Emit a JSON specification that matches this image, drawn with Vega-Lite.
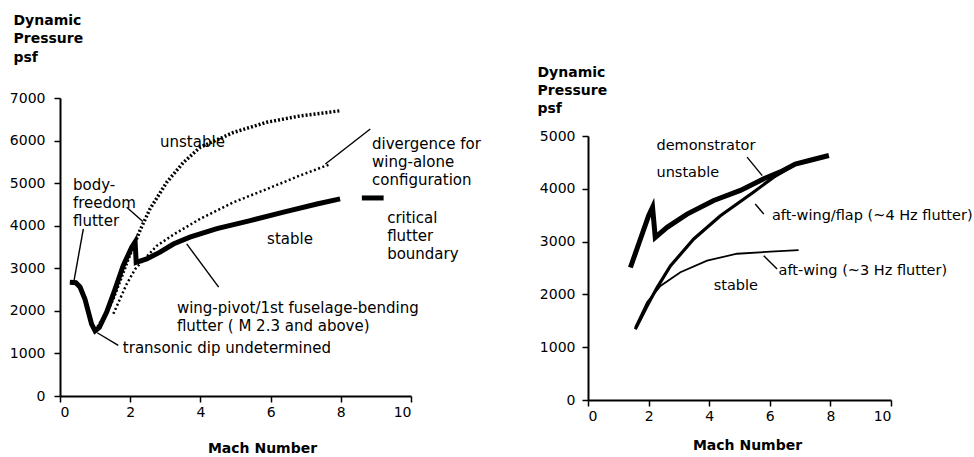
{
  "$schema": "https://vega.github.io/schema/vega-lite/v6.json",
  "background": "white",
  "padding": {"left": 9, "top": 13, "right": 0, "bottom": 0},
  "bounds": "flush",
  "spacing": 177,
  "config": {
    "view": {"stroke": null},
    "axis": {
      "grid": false,
      "domainColor": "black",
      "domainWidth": 2,
      "tickColor": "black",
      "tickWidth": 1.5,
      "tickSize": 6,
      "labelColor": "black",
      "labelFont": "DejaVu Sans",
      "labelFontSize": 14,
      "titleColor": "black",
      "titleFont": "DejaVu Sans",
      "titleFontSize": 14,
      "titleFontWeight": "bold"
    },
    "text": {"font": "DejaVu Sans", "color": "black"}
  },
  "datasets": {
    "leftLines": [
      {"series": "critical", "M": 0.28, "q": 2670},
      {"series": "critical", "M": 0.45, "q": 2660},
      {"series": "critical", "M": 0.57, "q": 2560},
      {"series": "critical", "M": 0.71, "q": 2280},
      {"series": "critical", "M": 0.81, "q": 1970},
      {"series": "critical", "M": 0.90, "q": 1690},
      {"series": "critical", "M": 1.00, "q": 1530},
      {"series": "critical", "M": 1.12, "q": 1610},
      {"series": "critical", "M": 1.33, "q": 1970},
      {"series": "critical", "M": 1.57, "q": 2510},
      {"series": "critical", "M": 1.80, "q": 3060},
      {"series": "critical", "M": 2.04, "q": 3490},
      {"series": "critical", "M": 2.14, "q": 3620},
      {"series": "critical", "M": 2.17, "q": 3140},
      {"series": "critical", "M": 2.47, "q": 3220},
      {"series": "critical", "M": 2.85, "q": 3380},
      {"series": "critical", "M": 3.23, "q": 3570},
      {"series": "critical", "M": 3.70, "q": 3730},
      {"series": "critical", "M": 4.47, "q": 3930},
      {"series": "critical", "M": 5.42, "q": 4120},
      {"series": "critical", "M": 6.37, "q": 4320},
      {"series": "critical", "M": 7.32, "q": 4510},
      {"series": "critical", "M": 7.98, "q": 4630},
      {"series": "unstable", "M": 1.02, "q": 1540},
      {"series": "unstable", "M": 1.25, "q": 1850},
      {"series": "unstable", "M": 1.50, "q": 2260},
      {"series": "unstable", "M": 1.75, "q": 2800},
      {"series": "unstable", "M": 1.98, "q": 3300},
      {"series": "unstable", "M": 2.16, "q": 3650},
      {"series": "unstable", "M": 2.30, "q": 3930},
      {"series": "unstable", "M": 2.56, "q": 4390},
      {"series": "unstable", "M": 3.04, "q": 5020},
      {"series": "unstable", "M": 3.52, "q": 5490},
      {"series": "unstable", "M": 3.99, "q": 5840},
      {"series": "unstable", "M": 4.94, "q": 6190},
      {"series": "unstable", "M": 5.89, "q": 6430},
      {"series": "unstable", "M": 6.84, "q": 6580},
      {"series": "unstable", "M": 7.98, "q": 6700},
      {"series": "divergence", "M": 1.52, "q": 1930},
      {"series": "divergence", "M": 1.71, "q": 2280},
      {"series": "divergence", "M": 1.90, "q": 2630},
      {"series": "divergence", "M": 2.14, "q": 2980},
      {"series": "divergence", "M": 2.33, "q": 3150},
      {"series": "divergence", "M": 2.76, "q": 3530},
      {"series": "divergence", "M": 3.23, "q": 3790},
      {"series": "divergence", "M": 3.99, "q": 4160},
      {"series": "divergence", "M": 4.94, "q": 4550},
      {"series": "divergence", "M": 5.89, "q": 4860},
      {"series": "divergence", "M": 6.84, "q": 5180},
      {"series": "divergence", "M": 7.65, "q": 5430}
    ],
    "leftLeaders": [
      {"M": 0.665, "q": 3925, "M2": 0.40, "q2": 2713},
      {"M": 1.90, "q": 4433, "M2": 2.36, "q2": 4097},
      {"M": 8.84, "q": 6271, "M2": 7.56, "q2": 5450},
      {"M": 4.52, "q": 2557, "M2": 3.61, "q2": 3573},
      {"M": 1.66, "q": 1188, "M2": 1.06, "q2": 1486}
    ],
    "leftKey": [
      {"M": 8.6, "q": 4652, "M2": 9.22}
    ],
    "leftLabels": [
      {"M": 2.85, "q": 5970, "label": "unstable"},
      {"M": 0.37, "q": 4960, "label": "body-\nfreedom\nflutter"},
      {"M": 8.89, "q": 5920, "label": "divergence for\nwing-alone\nconfiguration"},
      {"M": 9.32, "q": 4180, "label": "critical\nflutter\nboundary"},
      {"M": 5.9, "q": 3690, "label": "stable"},
      {"M": 3.33, "q": 2070, "label": "wing-pivot/1st fuselage-bending\nflutter ( M 2.3 and above)"},
      {"M": 1.79, "q": 1130, "label": "transonic dip undetermined"}
    ],
    "rightLines": [
      {"series": "demonstrator", "M": 1.40, "q": 2510},
      {"series": "demonstrator", "M": 1.73, "q": 3050},
      {"series": "demonstrator", "M": 2.00, "q": 3490},
      {"series": "demonstrator", "M": 2.13, "q": 3650},
      {"series": "demonstrator", "M": 2.22, "q": 3080},
      {"series": "demonstrator", "M": 2.61, "q": 3270},
      {"series": "demonstrator", "M": 3.27, "q": 3520},
      {"series": "demonstrator", "M": 4.15, "q": 3780},
      {"series": "demonstrator", "M": 5.03, "q": 3970},
      {"series": "demonstrator", "M": 5.80, "q": 4190},
      {"series": "demonstrator", "M": 6.35, "q": 4320},
      {"series": "demonstrator", "M": 6.84, "q": 4470},
      {"series": "demonstrator", "M": 7.40, "q": 4550},
      {"series": "demonstrator", "M": 7.95, "q": 4630},
      {"series": "flap", "M": 1.56, "q": 1340},
      {"series": "flap", "M": 1.95, "q": 1780},
      {"series": "flap", "M": 2.28, "q": 2130},
      {"series": "flap", "M": 2.72, "q": 2540},
      {"series": "flap", "M": 3.49, "q": 3050},
      {"series": "flap", "M": 4.37, "q": 3490},
      {"series": "flap", "M": 5.47, "q": 3940},
      {"series": "flap", "M": 6.13, "q": 4220},
      {"series": "flap", "M": 6.79, "q": 4450},
      {"series": "aft", "M": 1.56, "q": 1380},
      {"series": "aft", "M": 1.95, "q": 1850},
      {"series": "aft", "M": 2.39, "q": 2160},
      {"series": "aft", "M": 3.05, "q": 2420},
      {"series": "aft", "M": 3.93, "q": 2640},
      {"series": "aft", "M": 4.92, "q": 2770},
      {"series": "aft", "M": 6.02, "q": 2810},
      {"series": "aft", "M": 6.95, "q": 2840}
    ],
    "rightLeaders": [
      {"M": 5.25, "q": 4600, "M2": 5.75, "q2": 4250},
      {"M": 5.80, "q": 3523, "M2": 5.52, "q2": 3713},
      {"M": 6.24, "q": 2481, "M2": 5.80, "q2": 2733}
    ],
    "rightLabels": [
      {"M": 2.26, "q": 4810, "label": "demonstrator"},
      {"M": 2.26, "q": 4300, "label": "unstable"},
      {"M": 6.07, "q": 3480, "label": "aft-wing/flap (~4 Hz flutter)"},
      {"M": 6.29, "q": 2440, "label": "aft-wing (~3 Hz flutter)"},
      {"M": 4.15, "q": 2150, "label": "stable"}
    ]
  },
  "hconcat": [
    {
      "width": 351,
      "height": 298,
      "layer": [
        {
          "data": {"name": "leftLines"},
          "transform": [{"filter": "datum.series === 'critical'"}],
          "mark": {"type": "line", "color": "black", "strokeWidth": 5, "strokeJoin": "miter"},
          "encoding": {
            "x": {"field": "M", "type": "quantitative", "scale": {"domain": [0, 10], "nice": false},
              "axis": {"values": [0, 2, 4, 6, 8, 10], "format": "d", "labelPadding": 3, "title": "Mach Number",
                "titleX": 202, "titleY": 56, "titleAlign": "center", "titleBaseline": "alphabetic"}},
            "y": {"field": "q", "type": "quantitative", "scale": {"domain": [0, 7000], "nice": false},
              "axis": {"values": [0, 1000, 2000, 3000, 4000, 5000, 6000, 7000], "format": "d", "labelPadding": 9,
                "title": ["Dynamic", "Pressure", "psf"], "titleAngle": 0, "titleAlign": "left",
                "titleBaseline": "alphabetic", "titleX": -47, "titleY": -74, "titleLineHeight": 18.5}}
          }
        },
        {
          "data": {"name": "leftLines"},
          "transform": [{"filter": "datum.series === 'unstable'"}],
          "mark": {"type": "line", "color": "black", "strokeWidth": 3.5, "strokeDash": [2, 2]},
          "encoding": {
            "x": {"field": "M", "type": "quantitative"},
            "y": {"field": "q", "type": "quantitative"}
          }
        },
        {
          "data": {"name": "leftLines"},
          "transform": [{"filter": "datum.series === 'divergence'"}],
          "mark": {"type": "line", "color": "black", "strokeWidth": 2.5, "strokeDash": [2, 2.5]},
          "encoding": {
            "x": {"field": "M", "type": "quantitative"},
            "y": {"field": "q", "type": "quantitative"}
          }
        },
        {
          "data": {"name": "leftLeaders"},
          "mark": {"type": "rule", "color": "black", "strokeWidth": 1.4},
          "encoding": {
            "x": {"field": "M", "type": "quantitative"},
            "y": {"field": "q", "type": "quantitative"},
            "x2": {"field": "M2"},
            "y2": {"field": "q2"}
          }
        },
        {
          "data": {"name": "leftKey"},
          "mark": {"type": "rule", "color": "black", "strokeWidth": 5},
          "encoding": {
            "x": {"field": "M", "type": "quantitative"},
            "y": {"field": "q", "type": "quantitative"},
            "x2": {"field": "M2"}
          }
        },
        {
          "data": {"name": "leftLabels"},
          "mark": {"type": "text", "align": "left", "baseline": "middle", "fontSize": 15, "lineHeight": 18, "lineBreak": "\n"},
          "encoding": {
            "x": {"field": "M", "type": "quantitative"},
            "y": {"field": "q", "type": "quantitative"},
            "text": {"field": "label", "type": "nominal"}
          }
        }
      ]
    },
    {
      "width": 303,
      "height": 302,
      "layer": [
        {
          "data": {"name": "rightLines"},
          "transform": [{"filter": "datum.series === 'demonstrator'"}],
          "mark": {"type": "line", "color": "black", "strokeWidth": 5, "strokeJoin": "miter"},
          "encoding": {
            "x": {"field": "M", "type": "quantitative", "scale": {"domain": [0, 10], "nice": false},
              "axis": {"values": [0, 2, 4, 6, 8, 10], "format": "d", "labelPadding": 3, "title": "Mach Number",
                "titleX": 159, "titleY": 49, "titleAlign": "center", "titleBaseline": "alphabetic"}},
            "y": {"field": "q", "type": "quantitative", "scale": {"domain": [0, 5000], "nice": false, "range": [302, 38]},
              "axis": {"values": [0, 1000, 2000, 3000, 4000, 5000], "format": "d", "labelPadding": 7,
                "title": ["Dynamic", "Pressure", "psf"], "titleAngle": 0, "titleAlign": "left",
                "titleBaseline": "alphabetic", "titleX": -51, "titleY": -22, "titleLineHeight": 18}}
          }
        },
        {
          "data": {"name": "rightLines"},
          "transform": [{"filter": "datum.series === 'flap'"}],
          "mark": {"type": "line", "color": "black", "strokeWidth": 3.2},
          "encoding": {
            "x": {"field": "M", "type": "quantitative"},
            "y": {"field": "q", "type": "quantitative"}
          }
        },
        {
          "data": {"name": "rightLines"},
          "transform": [{"filter": "datum.series === 'aft'"}],
          "mark": {"type": "line", "color": "black", "strokeWidth": 1.8},
          "encoding": {
            "x": {"field": "M", "type": "quantitative"},
            "y": {"field": "q", "type": "quantitative"}
          }
        },
        {
          "data": {"name": "rightLeaders"},
          "mark": {"type": "rule", "color": "black", "strokeWidth": 1.4},
          "encoding": {
            "x": {"field": "M", "type": "quantitative"},
            "y": {"field": "q", "type": "quantitative"},
            "x2": {"field": "M2"},
            "y2": {"field": "q2"}
          }
        },
        {
          "data": {"name": "rightLabels"},
          "mark": {"type": "text", "align": "left", "baseline": "middle", "fontSize": 14.5},
          "encoding": {
            "x": {"field": "M", "type": "quantitative"},
            "y": {"field": "q", "type": "quantitative"},
            "text": {"field": "label", "type": "nominal"}
          }
        }
      ]
    }
  ]
}
